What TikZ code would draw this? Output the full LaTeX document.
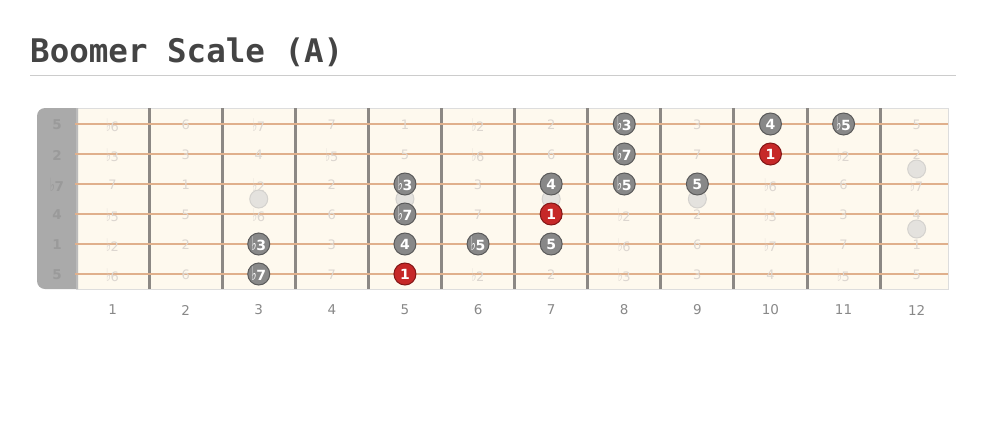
\documentclass[tikz,border=0pt]{standalone}
\usepackage{fontspec}
\setmainfont{DejaVu Sans}
\newfontfamily\titlefont{DejaVu Sans Mono}
\definecolor{titleGray}{RGB}{68, 68, 68}
\definecolor{ruleGray}{RGB}{204, 204, 204}
\definecolor{boardCream}{RGB}{254, 249, 238}
\definecolor{boardEdge}{RGB}{221, 221, 221}
\definecolor{nutGray}{RGB}{170, 170, 170}
\definecolor{nutText}{RGB}{154, 154, 154}
\definecolor{fretGray}{RGB}{140, 136, 132}
\definecolor{stringTan}{RGB}{224, 176, 140}
\definecolor{cellText}{RGB}{220, 214, 208}
\definecolor{inlayFill}{RGB}{228, 226, 222}
\definecolor{inlayEdge}{RGB}{212, 210, 206}
\definecolor{dotGray}{RGB}{136, 136, 136}
\definecolor{dotGrayEdge}{RGB}{90, 90, 90}
\definecolor{dotRed}{RGB}{198, 40, 40}
\definecolor{dotRedEdge}{RGB}{130, 22, 22}
\definecolor{fretNumGray}{RGB}{136, 136, 136}
\newcommand{\fl}{\scalebox{0.8}[1.35]{♭}\kern-0.3pt}

\pgfdeclarelayer{front}
\pgfsetlayers{main,front}

\begin{document}
\begin{tikzpicture}[
        x=1pt, y=-1pt,
        title/.style={anchor=base west, inner sep=0pt, text=titleGray, font=\titlefont\bfseries\fontsize{32.5}{36}\selectfont},
        wire/.style={draw=fretGray, line width=3pt},
        string/.style={draw=stringTan, line width=2pt},
        cell/.style={inner sep=0pt, text=cellText, font=\fontsize{13}{13}\selectfont},
        open/.style={inner sep=0pt, text=nutText, font=\bfseries\fontsize{13.5}{13.5}\selectfont},
        fretnum/.style={inner sep=0pt, text=fretNumGray, font=\fontsize{13.5}{13.5}\selectfont},
        inlay/.style={circle, draw=inlayEdge, fill=inlayFill, line width=1pt, minimum size=18pt, inner sep=0pt},
        dot1/.style={circle, draw=dotGrayEdge, fill=dotGray, line width=1pt, minimum size=22pt, inner sep=0pt, text=white, font=\bfseries\fontsize{14}{14}\selectfont},
        dot2/.style={dot1, draw=dotRedEdge, fill=dotRed}
    ]
        \useasboundingbox (0,0) rectangle (987,434);

        % Title
        \node[title] (ttl) at (30,62) {Boomer Scale (A)};
        \draw[ruleGray, line width=1pt] (30,75) -- (956,75);

        % Board and nut
        \draw[boardEdge, fill=boardCream] (76,108) rectangle (948,289);
        \fill[nutGray] (78,108) [rounded corners=8pt] -- (37,108) -- (37,289) [sharp corners] -- (78,289) -- cycle;
        \draw[nutGray!80, line width=2pt] (77,108) -- (77,289);
        \foreach \f in {1,...,11}
            \draw[wire] ({76+73.1*\f},108) -- ({76+73.1*\f},289);
        \foreach \s in {1,...,6}
            \draw[string] (75,{94+30*\s}) -- (948,{94+30*\s});

        % Open strings
        \foreach \s/\t in {1/5, 2/2, 3/\fl7, 4/4, 5/1, 6/5}
            \node[open] (o\s) at (57,{95+30*\s}) {\t};

        % Intervals per string (0 = faint, 1 = scale, 2 = root)
        \foreach \s/\row in {
            1/{0/\fl6,0/6,0/\fl7,0/7,0/1,0/\fl2,0/2,1/\fl3,0/3,1/4,1/\fl5,0/5},
            2/{0/\fl3,0/3,0/4,0/\fl5,0/5,0/\fl6,0/6,1/\fl7,0/7,2/1,0/\fl2,0/2},
            3/{0/7,0/1,0/\fl2,0/2,1/\fl3,0/3,1/4,1/\fl5,1/5,0/\fl6,0/6,0/\fl7},
            4/{0/\fl5,0/5,0/\fl6,0/6,1/\fl7,0/7,2/1,0/\fl2,0/2,0/\fl3,0/3,0/4},
            5/{0/\fl2,0/2,1/\fl3,0/3,1/4,1/\fl5,1/5,0/\fl6,0/6,0/\fl7,0/7,0/1},
            6/{0/\fl6,0/6,1/\fl7,0/7,2/1,0/\fl2,0/2,0/\fl3,0/3,0/4,0/\fl5,0/5}}
            \foreach \k/\t [count=\f] in \row {
                \ifnum\k=0\relax
                    \node[cell] (c\s-\f) at ({76+73.1*(\f-0.5)},{95+30*\s}) {\t};
                \else
                    \begin{pgfonlayer}{front}
                        \node[dot\k] (d\s-\f) at ({76+73.1*(\f-0.5)},{94+30*\s}) {\t};
                    \end{pgfonlayer}
                \fi
            };

        % Inlays
        \foreach \f in {3,5,7,9}
            \node[inlay] (i\f) at ({76+73.1*(\f-0.5)},199) {};
        \node[inlay] (i12a) at ({76+73.1*11.5},169) {};
        \node[inlay] (i12b) at ({76+73.1*11.5},229) {};

        % Fret numbers
        \foreach \f in {1,...,12}
            \node[fretnum] (n\f) at ({76+73.1*(\f-0.5)},310) {\f};
    \end{tikzpicture}
\end{document}
